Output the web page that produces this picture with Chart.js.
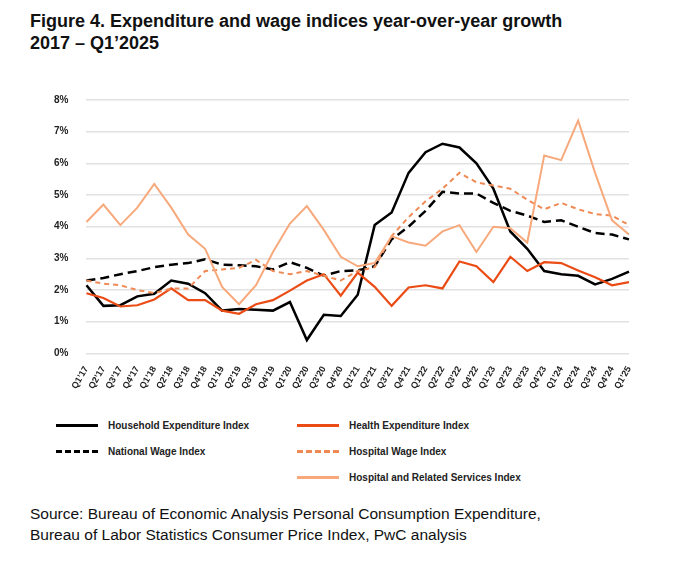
<!DOCTYPE html><html><head><meta charset="utf-8">
<script src="https://cdn.jsdelivr.net/npm/chart.js@4"></script>
<style>
body{margin:0;background:#fff;font-family:Arial,"Liberation Sans",sans-serif;width:680px;height:571px;position:relative;overflow:hidden}
#t{position:absolute;left:30px;top:10px;font-size:18px;font-weight:bold;line-height:22px;color:#111}
#c{position:absolute;left:22px;top:76px}
.lg{position:absolute;font-size:10px;font-weight:bold;color:#222;display:flex;align-items:center}
.lg span.l{display:inline-block;width:42px;margin-right:10px;border-top:3px solid}
#s{position:absolute;left:30px;top:503px;font-size:15.5px;line-height:21px;color:#111}
</style></head><body>
<div id="t">Figure 4. Expenditure and wage indices year-over-year growth<br>2017 – Q1’2025</div>
<canvas id="c" width="620" height="318"></canvas>
<div class="lg" style="left:56px;top:420px"><span class="l" style="border-color:#000"></span>Household Expenditure Index</div>
<div class="lg" style="left:56px;top:446px"><span class="l" style="border-color:#000;border-top-style:dashed"></span>National Wage Index</div>
<div class="lg" style="left:297px;top:420px"><span class="l" style="border-color:#eb4b14"></span>Health Expenditure Index</div>
<div class="lg" style="left:297px;top:446px"><span class="l" style="border-color:#f08a55;border-top-style:dashed"></span>Hospital Wage Index</div>
<div class="lg" style="left:297px;top:472px"><span class="l" style="border-color:#f7a97c"></span>Hospital and Related Services Index</div>
<div id="s">Source: Bureau of Economic Analysis Personal Consumption Expenditure,<br>Bureau of Labor Statistics Consumer Price Index, PwC analysis</div>
<script>
const categories=[];
for(let y=17;y<=25;y++){for(let q=1;q<=4;q++){if(y===25&&q>1)break;categories.push("Q"+q+"’"+y);}}
const household=[2.15,1.5,1.52,1.8,1.88,2.3,2.2,1.9,1.35,1.4,1.38,1.35,1.62,0.42,1.22,1.18,1.85,4.05,4.45,5.7,6.35,6.62,6.5,6.0,5.2,3.85,3.3,2.6,2.5,2.45,2.18,2.35,2.58];
const nationalWage=[2.3,2.38,2.5,2.6,2.72,2.8,2.85,2.97,2.8,2.78,2.75,2.65,2.88,2.7,2.45,2.6,2.62,2.75,3.6,4.0,4.5,5.1,5.05,5.05,4.75,4.5,4.35,4.15,4.2,4.0,3.8,3.75,3.6];
const health=[1.9,1.75,1.48,1.52,1.7,2.05,1.68,1.68,1.35,1.25,1.55,1.68,1.98,2.3,2.5,1.82,2.55,2.1,1.5,2.08,2.15,2.05,2.9,2.75,2.25,3.05,2.6,2.88,2.85,2.62,2.4,2.15,2.25];
const hospitalWage=[2.3,2.2,2.15,2.0,1.9,2.05,2.05,2.6,2.65,2.7,2.95,2.6,2.5,2.6,2.45,2.3,2.6,2.72,3.7,4.3,4.8,5.2,5.7,5.4,5.3,5.2,4.85,4.55,4.75,4.55,4.4,4.35,4.05];
const hospitalServices=[4.15,4.7,4.05,4.6,5.35,4.6,3.75,3.3,2.1,1.55,2.15,3.2,4.1,4.65,3.9,3.05,2.75,2.85,3.7,3.5,3.4,3.85,4.05,3.2,4.0,3.95,3.5,6.25,6.1,7.35,5.7,4.2,3.75];
const ds=(d,c,dash,w)=>({data:d,borderColor:c,borderDash:dash,borderWidth:w,pointRadius:0,tension:0,fill:false});
new Chart(document.getElementById('c'),{type:'line',data:{labels:categories,datasets:[
ds(hospitalServices,'#f7a97c',[],2),
ds(hospitalWage,'#f08a55',[5,4],2),
ds(health,'#eb4b14',[],2.2),
ds(nationalWage,'#000',[9,5],2.5),
ds(household,'#000',[],2.5)]},
options:{responsive:false,animation:false,plugins:{legend:{display:false},tooltip:{enabled:false}},
layout:{padding:{right:13,left:14}},
scales:{y:{min:0,max:8,ticks:{stepSize:1,padding:18,callback:v=>v+'%',color:'#222',font:{size:10,weight:'bold'}},grid:{color:'#e2e2e2',lineWidth:1.5,drawTicks:false},border:{display:false}},
x:{offset:false,ticks:{maxRotation:60,minRotation:60,autoSkip:false,color:'#222',font:{size:9,weight:'bold'}},grid:{display:false},border:{display:false}}}}});
</script></body></html>
